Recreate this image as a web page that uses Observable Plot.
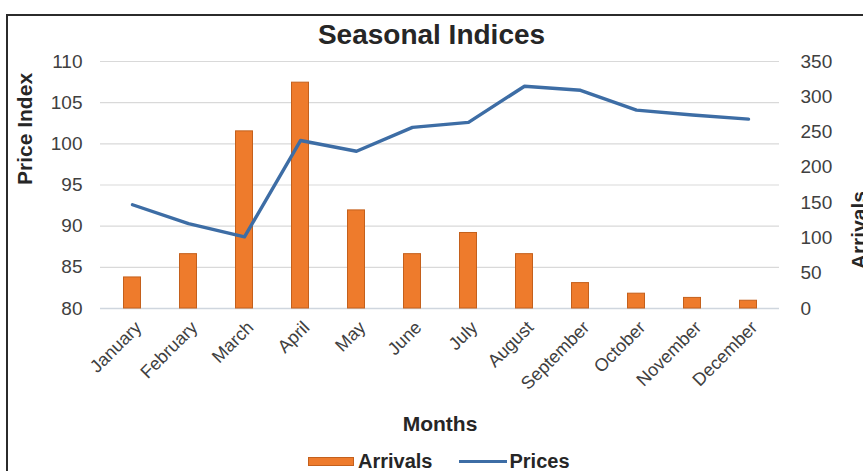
<!DOCTYPE html>
<html>
<head>
<meta charset="utf-8">
<script src="https://cdn.jsdelivr.net/npm/d3@7"></script>
<script src="https://cdn.jsdelivr.net/npm/@observablehq/plot@0.6"></script>
<style>
  html, body { margin: 0; padding: 0; background: #fff; overflow: hidden; }
  #wrap { position: relative; width: 863px; height: 471px; overflow: hidden;
          font-family: "Liberation Sans", Arial, sans-serif; }
  #frame { position: absolute; left: 6px; top: 14px; width: 900px; height: 500px;
           border-left: 2px solid #2b2b2b; border-top: 2px solid #2b2b2b; }
  #title { position: absolute; left: 0; width: 863px; top: 19px; text-align: center;
           font-weight: bold; font-size: 28px; color: #262626; }
  #xlabel { position: absolute; left: 340px; width: 200px; top: 412px; text-align: center;
            font-weight: bold; font-size: 21px; color: #262626; }
  #legend { position: absolute; left: 308px; top: 450px; display: flex; align-items: center;
            font-weight: bold; font-size: 20px; color: #262626; }
  #legend .sw { display: inline-block; width: 46px; height: 9px; background: #ee7b2c;
                border: 1px solid #c4601c; box-sizing: border-box; margin-right: 4px; }
  #legend .ln { display: inline-block; width: 48px; height: 3px; background: #3d6da5;
                margin-left: 26px; margin-right: 3px; }
  #chart { position: absolute; left: 0; top: 0; }
</style>
</head>
<body>
<div id="wrap">
  <div id="frame"></div>
  <div id="chart"></div>
  <div id="title">Seasonal Indices</div>
  <div id="xlabel">Months</div>
  <div id="legend"><span class="sw"></span>Arrivals<span class="ln"></span>Prices</div>
</div>
<script>
// Monthly categories and the two series
const months = ["January", "February", "March", "April", "May", "June",
                "July", "August", "September", "October", "November", "December"];
const arrivals = [44, 77, 251, 320, 139, 77, 107, 77, 36, 21, 15, 11];
const prices = [92.6, 90.3, 88.7, 100.4, 99.1, 102.0, 102.6, 107.0, 106.5, 104.1, 103.5, 103.0];

// Axis ticks
const priceTicks = [80, 85, 90, 95, 100, 105, 110];
const arrivalTicks = [0, 50, 100, 150, 200, 250, 300, 350];

const table = months.map((m, i) => ({month: m, arrivals: arrivals[i], price: prices[i]}));

// Secondary axis: arrivals 0–350 share the vertical extent of price index 80–110
const arrToPrice = d3.scaleLinear().domain([0, 350]).range([80, 110]);

const font = "Liberation Sans, Arial, sans-serif";

const chart = Plot.plot({
  width: 863,
  height: 400,
  marginLeft: 100,
  marginRight: 84,
  marginTop: 61,
  marginBottom: 92,
  style: {fontFamily: font, background: "transparent", overflow: "visible"},
  x: {domain: months, padding: 0, axis: null},
  y: {domain: [80, 110], axis: null},
  marks: [
    Plot.gridY(priceTicks.slice(1), {stroke: "#d9d9d9", strokeOpacity: 1, strokeWidth: 1.2}),
    Plot.ruleY([80], {stroke: "#cfd6de", strokeWidth: 1.4}),
    Plot.barY(table, {
      x: "month",
      y1: 80,
      y2: d => arrToPrice(d.arrivals),
      fill: "#ee7b2c",
      stroke: "#c4601c",
      strokeWidth: 1,
      insetLeft: 19.5,
      insetRight: 19.5
    }),
    Plot.line(table, {x: "month", y: "price", stroke: "#3d6da5", strokeWidth: 3.4,
                      strokeLinejoin: "round", curve: "linear"}),
    // left axis (price index)
    Plot.axisY(priceTicks, {anchor: "left", tickSize: 0, tickPadding: 18,
                            fontSize: 19, fill: "#404040", label: null}),
    // right axis (arrivals), positioned on the shared vertical range
    Plot.axisY(arrivalTicks.map(v => arrToPrice(v)), {
      anchor: "right", tickSize: 0, tickPadding: 21, fontSize: 19, fill: "#404040",
      label: null, tickFormat: v => String(Math.round(arrToPrice.invert(v)))
    }),
    // month labels, slanted
    Plot.text(months, {
      x: d => d, y: 80, text: d => d, rotate: -45, textAnchor: "end",
      lineAnchor: "middle", dx: 6, dy: 16, fontSize: 18, fill: "#404040"
    }),
    // axis titles
    Plot.text(["Price Index"], {frameAnchor: "left", text: d => d, rotate: -90,
      dx: -75, fontSize: 21, fontWeight: "bold", fill: "#262626"}),
    Plot.text(["Arrivals"], {frameAnchor: "right", text: d => d, rotate: -90,
      dx: 80, dy: 6, fontSize: 21, fontWeight: "bold", fill: "#262626"})
  ]
});

document.getElementById("chart").appendChild(chart);
</script>
</body>
</html>
